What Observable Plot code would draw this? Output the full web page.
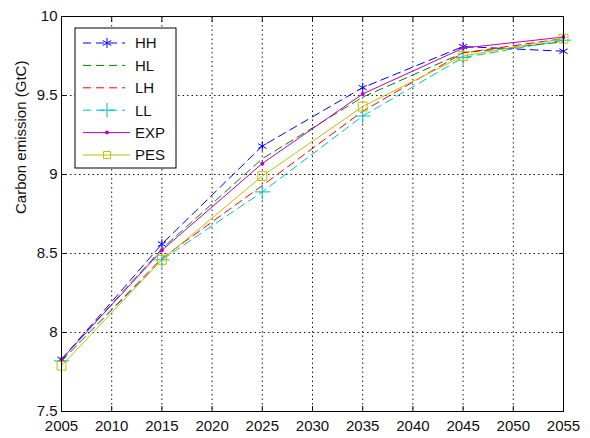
<!DOCTYPE html>
<html>
<head>
<meta charset="utf-8">
<script src="https://cdn.jsdelivr.net/npm/d3@7"></script>
<script src="https://cdn.jsdelivr.net/npm/@observablehq/plot@0.6"></script>
<style>
  html, body { margin: 0; padding: 0; background: #fff; }
  #chart { position: relative; width: 590px; height: 438px; }
</style>
</head>
<body>
<div id="chart"></div>
<script>
const years = [2005, 2015, 2025, 2035, 2045, 2055];
const HH  = [7.83, 8.56, 9.18, 9.55, 9.81, 9.78];
const HL  = [7.83, 8.53, 9.10, 9.49, 9.77, 9.84];
const LH  = [7.82, 8.47, 8.93, 9.40, 9.77, 9.86];
const LL  = [7.82, 8.46, 8.89, 9.37, 9.74, 9.85];
const EXP = [7.83, 8.52, 9.07, 9.51, 9.80, 9.87];
const PES = [7.79, 8.46, 8.99, 9.43, 9.75, 9.86];

const xTicks = [2005, 2010, 2015, 2020, 2025, 2030, 2035, 2040, 2045, 2050, 2055];
const yTicks = [7.5, 8, 8.5, 9, 9.5, 10];
const yLabel = "Carbon emission (GtC)";

const seriesNames = ["HH", "HL", "LH", "LL", "EXP", "PES"];
const seriesValues = [HH, HL, LH, LL, EXP, PES];
const seriesColors = ["#0000ff", "#008000", "#ff0000", "#00bfbf", "#bf00bf", "#bfbf00"];
const seriesDash = ["8,5", "8,5", "8,5", "8,5", null, null];
const seriesSymbol = ["asterisk", null, null, "plus", "circle", "square"];

const rows = [];
seriesNames.forEach((name, i) => {
  years.forEach((yr, j) => rows.push({series: name, year: yr, value: seriesValues[i][j]}));
});

const lineMarks = seriesNames.map((name, i) =>
  Plot.line(rows.filter(d => d.series === name), {
    x: "year", y: "value", stroke: seriesColors[i], strokeWidth: 1,
    strokeDasharray: seriesDash[i] || undefined
  })
);
const dotMarks = [];
seriesNames.forEach((name, i) => {
  const sym = seriesSymbol[i];
  if (!sym) return;
  const data = rows.filter(d => d.series === name);
  if (sym === "circle") {
    dotMarks.push(Plot.dot(data, {x: "year", y: "value", r: 2, fill: seriesColors[i], stroke: "none"}));
  } else {
    dotMarks.push(Plot.dot(data, {x: "year", y: "value", symbol: sym, r: sym === "asterisk" ? 4.5 : 5, stroke: seriesColors[i], fill: "none", strokeWidth: 1}));
  }
});

const FONT = "'Liberation Sans', Arial, Helvetica, sans-serif";
const fmtY = d => String(d);
const plot = Plot.plot({
  width: 590,
  height: 438,
  marginLeft: 61,
  marginRight: 27,
  marginTop: 16,
  marginBottom: 27,
  style: {fontFamily: FONT, fontSize: "15px", color: "#111", background: "#fff"},
  x: {domain: [2005, 2055]},
  y: {domain: [7.5, 10]},
  marks: [
    Plot.gridX(xTicks, {stroke: "#000", strokeOpacity: 0.9, strokeDasharray: "1.5,3"}),
    Plot.gridY(yTicks, {stroke: "#000", strokeOpacity: 0.9, strokeDasharray: "1.5,3"}),
    ...lineMarks,
    ...dotMarks,
    Plot.axisX(xTicks, {anchor: "bottom", tickSize: -5, tickPadding: 14, tickFormat: "d", label: null, fontSize: 15}),
    Plot.axisX(xTicks, {anchor: "top", tickSize: -5, tickFormat: () => "", label: null}),
    Plot.axisY(yTicks, {anchor: "left", tickSize: -5, tickPadding: 9, tickFormat: fmtY, label: null, fontSize: 15}),
    Plot.axisY(yTicks, {anchor: "right", tickSize: -5, tickFormat: () => "", label: null}),
    Plot.frame({stroke: "#000", strokeWidth: 1}),
    Plot.text([yLabel], {frameAnchor: "left", dx: -40, rotate: -90, text: d => d, fontSize: 15, fill: "#111"})
  ]
});
document.getElementById("chart").appendChild(plot);

// Legend drawn inside the axes box (top-left), MATLAB style
const svg = d3.select(plot);
const lg = svg.append("g").attr("transform", "translate(75,28)");
lg.append("rect").attr("width", 101).attr("height", 140).attr("fill", "#fff").attr("stroke", "#000").attr("stroke-width", 1);
seriesNames.forEach((name, i) => {
  const y = 15 + i * 22.4;
  const dashed = !!seriesDash[i];
  lg.append("line").attr("x1", 8).attr("x2", dashed ? 50 : 55).attr("y1", y).attr("y2", y)
    .attr("stroke", seriesColors[i]).attr("stroke-width", 1)
    .attr("stroke-dasharray", seriesDash[i] || null);
  const sym = seriesSymbol[i];
  if (sym) {
    const cx = 32;
    if (sym === "circle") {
      lg.append("circle").attr("cx", cx).attr("cy", y).attr("r", 2).attr("fill", seriesColors[i]);
    } else {
      const type = sym === "asterisk" ? d3.symbolAsterisk : sym === "plus" ? d3.symbolPlus : d3.symbolSquare;
      const size = sym === "square" ? 50 : 70;
      lg.append("path").attr("d", d3.symbol(type, size)()).attr("transform", `translate(${cx},${y})`)
        .attr("fill", "none").attr("stroke", seriesColors[i]).attr("stroke-width", 1);
    }
  }
  lg.append("text").attr("x", 60).attr("y", y).attr("dy", "0.36em")
    .attr("text-anchor", "start")
    .style("fill", "#111").style("font-size", "15px").style("font-family", FONT)
    .text(name);
});
</script>
</body>
</html>
